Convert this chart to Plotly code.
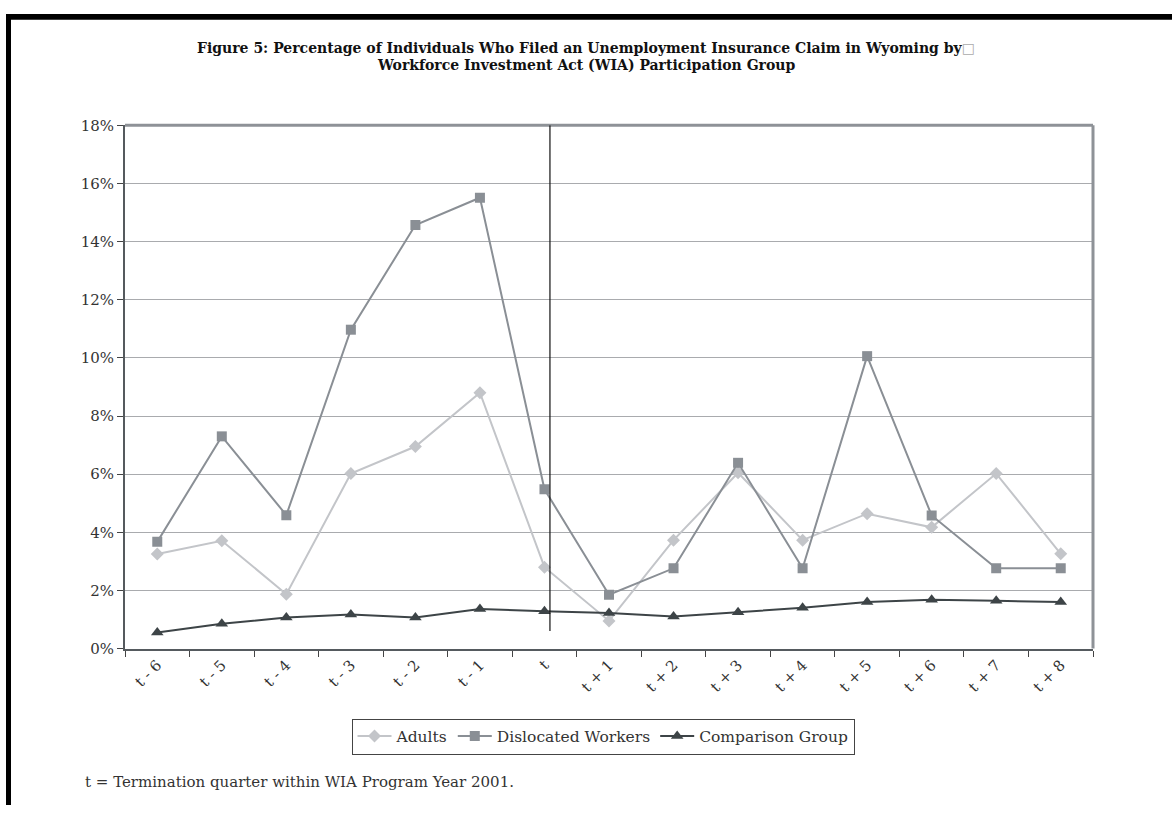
import plotly.graph_objects as go

# Quarters relative to the termination quarter t
quarters = ["t - 6", "t - 5", "t - 4", "t - 3", "t - 2", "t - 1", "t",
            "t + 1", "t + 2", "t + 3", "t + 4", "t + 5", "t + 6", "t + 7", "t + 8"]

# Percent of each group filing a UI claim
adults = [3.25, 3.71, 1.87, 6.02, 6.95, 8.80, 2.80,
          0.95, 3.73, 6.05, 3.73, 4.64, 4.17, 6.02, 3.26]
dislocated = [3.67, 7.30, 4.59, 10.97, 14.57, 15.51, 5.48,
              1.85, 2.76, 6.39, 2.76, 10.06, 4.58, 2.76, 2.76]
comparison = [0.55, 0.85, 1.07, 1.17, 1.07, 1.36, 1.28,
              1.22, 1.10, 1.25, 1.40, 1.60, 1.68, 1.64, 1.60]

W, H = 1172, 814
SERIF = "DejaVu Serif"

fig = go.Figure()
fig.add_trace(go.Scatter(
    x=quarters, y=adults, name="Adults", mode="lines+markers",
    line=dict(color="#c3c5c9", width=2),
    marker=dict(symbol="diamond", size=10, color="#c3c5c9")))
fig.add_trace(go.Scatter(
    x=quarters, y=dislocated, name="Dislocated Workers", mode="lines+markers",
    line=dict(color="#8a8f95", width=2),
    marker=dict(symbol="square", size=10, color="#8a8f95")))
fig.add_trace(go.Scatter(
    x=quarters, y=comparison, name="Comparison Group", mode="lines+markers",
    line=dict(color="#3d4447", width=2),
    marker=dict(symbol="triangle-up", size=11, color="#3d4447")))

x0, x1 = 125 / W, 1093 / W
y0, y1 = 1 - 654 / H, 1 - 119 / H

shapes = [
    # plot frame: lighter top and right edges
    dict(type="line", xref="paper", yref="paper", x0=x0, x1=x1, y0=y1, y1=y1,
         line=dict(color="#8e9297", width=3)),
    dict(type="line", xref="paper", yref="paper", x0=x1, x1=x1, y0=y0, y1=y1,
         line=dict(color="#8e9297", width=3)),
    # marker for the termination quarter
    dict(type="line", xref="x", yref="y", x0=6.085, x1=6.085, y0=0.6, y1=18,
         line=dict(color="#111111", width=1.2)),
    # page frame
    dict(type="rect", xref="paper", yref="paper", x0=6 / W, x1=11 / W, y0=0, y1=1 - 5 / H,
         fillcolor="black", line=dict(width=0)),
    dict(type="rect", xref="paper", yref="paper", x0=6 / W, x1=1, y0=1 - 11 / H, y1=1 - 5 / H,
         fillcolor="black", line=dict(width=0)),
]

fig.update_layout(
    width=W, height=H,
    margin=dict(l=0, r=0, t=0, b=0),
    paper_bgcolor="white", plot_bgcolor="white",
    font=dict(family=SERIF, color="#333333", size=15),
    showlegend=True,
    legend=dict(orientation="h", x=603 / W, xanchor="center",
                y=1 - 744 / H, yanchor="middle",
                bordercolor="#444444", borderwidth=1, bgcolor="white",
                font=dict(family=SERIF, size=15.5, color="#333333"),
                itemwidth=34, tracegroupgap=0),
    xaxis=dict(domain=[x0, x1], type="category", range=[-0.5, 14.5],
               showline=True, linecolor="#555a5e", linewidth=2,
               ticks="outside", tickson="boundaries", ticklen=6,
               tickcolor="#444444", tickangle=-45, showgrid=False,
               tickfont=dict(family=SERIF, size=15, color="#333333")),
    yaxis=dict(domain=[y0, y1], range=[0, 18], dtick=2, ticksuffix="%",
               showline=True, linecolor="#555a5e", linewidth=2,
               ticks="outside", ticklen=6, tickcolor="#444444",
               showgrid=True, gridcolor="#a9abae", gridwidth=1,
               zeroline=False,
               tickfont=dict(family=SERIF, size=15, color="#333333")),
    shapes=shapes,
    annotations=[
        dict(xref="paper", yref="paper", x=586 / W, y=1 - 40 / H,
             xanchor="center", yanchor="middle", showarrow=False,
             text="<b>Figure 5: Percentage of Individuals Who Filed an Unemployment "
                  "Insurance Claim in Wyoming by</b><span style='color:#aaaaaa'>\u25a1</span>",
             font=dict(family=SERIF, size=14, color="#111111")),
        dict(xref="paper", yref="paper", x=586 / W, y=1 - 57 / H,
             xanchor="center", yanchor="middle", showarrow=False,
             text="<b>Workforce Investment Act (WIA) Participation Group</b>",
             font=dict(family=SERIF, size=14, color="#111111")),
        dict(xref="paper", yref="paper", x=83 / W, y=1 - 790 / H,
             xanchor="left", yanchor="middle", showarrow=False,
             text="t = Termination quarter within WIA Program Year 2001.",
             font=dict(family=SERIF, size=15, color="#333333")),
    ],
)

fig.write_html("out.html")
